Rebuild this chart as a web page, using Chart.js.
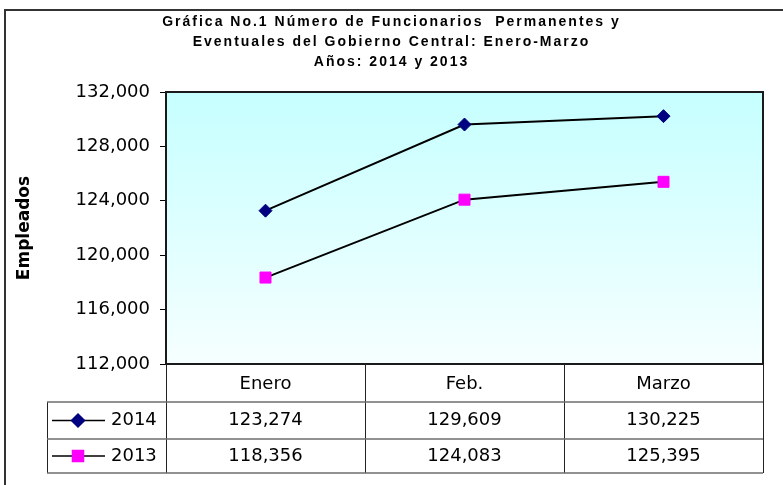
<!DOCTYPE html>
<html>
<head>
<meta charset="utf-8">
<script src="https://cdn.jsdelivr.net/npm/chart.js@4.4.1/dist/chart.umd.min.js"></script>
<style>
    body { margin: 0; background: #fff; }
    #chart { display: block; }
</style>
</head>
<body>
<canvas id="chart" width="783" height="485"></canvas>
<script>
const meses = ['Enero', 'Feb.', 'Marzo'];
const serie2014 = [123274, 129609, 130225];
const serie2013 = [118356, 124083, 125395];
const series = ['2014', '2013'];
const titulo = [
    'Gráfica No.1 Número de Funcionarios  Permanentes y',
    'Eventuales del Gobierno Central: Enero-Marzo',
    'Años: 2014 y 2013'
];

const numFont = '"DejaVu Sans", sans-serif';

function fmt(v) {
    return v.toLocaleString('en-US');
}

// fondo degradado + marco del area de trazado
const plotBg = {
    id: 'plotBg',
    beforeDraw(chart) {
        var ctx = chart.ctx;
        var a = chart.chartArea;
        ctx.save();
        var g = ctx.createLinearGradient(0, a.top, 0, a.bottom);
        g.addColorStop(0, '#c6ffff');
        g.addColorStop(1, '#f6ffff');
        ctx.fillStyle = g;
        ctx.fillRect(a.left, a.top, a.right - a.left, a.bottom - a.top);

        // marco exterior
        ctx.strokeStyle = '#333';
        ctx.lineWidth = 2;
        ctx.beginPath();
        ctx.moveTo(chart.width, 10);
        ctx.lineTo(5, 10);
        ctx.lineTo(5, chart.height);
        ctx.stroke();

        // titulo
        ctx.fillStyle = '#000';
        ctx.font = 'bold 14px "Liberation Sans", Arial, sans-serif';
        ctx.letterSpacing = '2px';
        ctx.textAlign = 'center';
        ctx.textBaseline = 'middle';
        for (var i = 0; i < titulo.length; i++) {
            ctx.fillText(titulo[i], chart.width / 2, 22 + i * 20);
        }
        ctx.restore();
    },
    afterDatasetsDraw(chart) {
        var ctx = chart.ctx;
        var a = chart.chartArea;
        ctx.save();
        ctx.strokeStyle = '#1a1a1a';
        ctx.lineWidth = 2;
        ctx.strokeRect(a.left, a.top, a.right - a.left, a.bottom - a.top);
        ctx.restore();
    }
};

// tabla de datos bajo el grafico
const dataTable = {
    id: 'dataTable',
    afterDraw(chart) {
        var ctx = chart.ctx;
        var a = chart.chartArea;
        var x = chart.scales.x;
        var rowH = [38, 37, 34];
        var y0 = a.bottom;
        var y1 = y0 + rowH[0];
        var y2 = y1 + rowH[1];
        var y3 = y2 + rowH[2];
        var tableLeft = 47;

        ctx.save();
        // verticales
        ctx.strokeStyle = '#222';
        ctx.lineWidth = 1;
        var bounds = [a.left];
        for (var i = 0; i < meses.length - 1; i++) {
            bounds.push((x.getPixelForValue(i) + x.getPixelForValue(i + 1)) / 2);
        }
        bounds.push(a.right);
        ctx.beginPath();
        bounds.forEach(function (bx) {
            ctx.moveTo(Math.round(bx) + 0.5, y0);
            ctx.lineTo(Math.round(bx) + 0.5, y3);
        });
        ctx.moveTo(tableLeft + 0.5, y1);
        ctx.lineTo(tableLeft + 0.5, y3);
        ctx.stroke();

        // horizontales
        ctx.strokeStyle = '#6e6e6e';
        ctx.lineWidth = 1.5;
        ctx.beginPath();
        [y1, y2, y3].forEach(function (yy) {
            ctx.moveTo(tableLeft, yy);
            ctx.lineTo(a.right, yy);
        });
        ctx.stroke();

        // filas
        var rows = [y1, y2];
        ctx.font = '18px ' + numFont;
        ctx.textBaseline = 'middle';
        chart.data.datasets.forEach(function (ds, d) {
            var cy = rows[d] + rowH[d + 1] / 2;
            // clave de leyenda
            ctx.strokeStyle = '#000';
            ctx.lineWidth = 1.5;
            ctx.beginPath();
            ctx.moveTo(52, cy);
            ctx.lineTo(105, cy);
            ctx.stroke();
            ctx.fillStyle = ds.pointBackgroundColor;
            ctx.strokeStyle = ds.pointBackgroundColor;
            ctx.beginPath();
            Chart.helpers.drawPoint(ctx, {
                pointStyle: ds.pointStyle,
                radius: ds.pointRadius,
                borderWidth: 1
            }, 78, cy);

            ctx.fillStyle = '#000';
            ctx.textAlign = 'left';
            ctx.fillText(ds.label, 111, cy);

            ctx.textAlign = 'center';
            ds.data.forEach(function (v, i) {
                ctx.fillText(fmt(v), x.getPixelForValue(i), cy);
            });
        });
        ctx.restore();
    }
};

const ctx = document.getElementById('chart').getContext('2d');

new Chart(ctx, {
    type: 'line',
    data: {
        labels: meses,
        datasets: [{
            label: series[0],
            data: serie2014,
            borderColor: '#000',
            borderWidth: 2,
            pointStyle: 'rectRot',
            pointRadius: 6.5,
            pointBackgroundColor: '#000080',
            pointBorderColor: '#000080',
            pointBorderWidth: 1,
            tension: 0
        }, {
            label: series[1],
            data: serie2013,
            borderColor: '#000',
            borderWidth: 2,
            pointStyle: 'rect',
            pointRadius: 7.8,
            pointBackgroundColor: '#ff00ff',
            pointBorderColor: '#ff00ff',
            pointBorderWidth: 1,
            tension: 0
        }]
    },
    options: {
        responsive: false,
        animation: false,
        layout: {
            padding: { top: 92, left: 6, right: 20, bottom: 0 }
        },
        plugins: {
            legend: { display: false },
            title: { display: false },
            tooltip: { enabled: false }
        },
        scales: {
            x: {
                offset: true,
                grid: { display: false, drawTicks: false },
                border: { display: false },
                ticks: {
                    color: '#000',
                    font: { family: numFont, size: 18 },
                    padding: 10,
                    maxRotation: 0
                },
                afterFit: function (scale) {
                    scale.height = 121;
                }
            },
            y: {
                min: 112000,
                max: 132000,
                ticks: {
                    stepSize: 4000,
                    color: '#000',
                    font: { family: numFont, size: 18 },
                    padding: 10,
                    callback: function (v) { return fmt(v); }
                },
                grid: {
                    drawOnChartArea: false,
                    drawTicks: true,
                    tickLength: 6,
                    color: '#000'
                },
                border: { display: false },
                title: {
                    display: true,
                    text: 'Empleados',
                    color: '#000',
                    font: { family: numFont, size: 17, weight: 'bold' },
                    padding: { top: 8, bottom: 0 }
                },
                afterFit: function (scale) {
                    scale.width = 160;
                }
            }
        }
    },
    plugins: [plotBg, dataTable]
});
</script>
</body>
</html>
